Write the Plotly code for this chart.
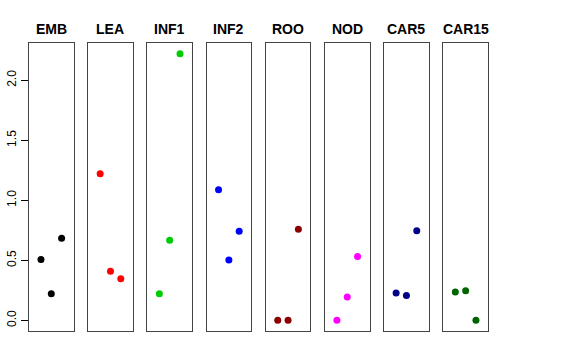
import plotly.graph_objects as go

tissues = ["EMB", "LEA", "INF1", "INF2", "ROO", "NOD", "CAR5", "CAR15"]
positions = [1, 2, 3]
emb = [0.506, 0.222, 0.683]
lea = [1.222, 0.408, 0.347]
inf1 = [0.222, 0.667, 2.222]
inf2 = [1.089, 0.503, 0.742]
roo = [0.0, 0.0, 0.758]
nod = [0.0, 0.194, 0.531]
car5 = [0.228, 0.206, 0.747]
car15 = [0.236, 0.247, 0.0]
values = [emb, lea, inf1, inf2, roo, nod, car5, car15]
colors = ["#000000", "#FF0000", "#00CD00", "#0000FF", "#8B0000", "#FF00FF", "#00008B", "#006400"]
y_ticks = [0.0, 0.5, 1.0, 1.5, 2.0]

W, H = 576, 360
fig = go.Figure()
left0, step, pw = 29.0, 59.19, 44.6
ytop, ybot = 43.0, 331.0
ymax_data = max(max(v) for v in values)
pad = 0.04 * (ymax_data - 0)
yr = [0 - pad, ymax_data + pad]

for i, (name, vals, col) in enumerate(zip(tissues, values, colors)):
    ax = "" if i == 0 else str(i + 1)
    fig.add_trace(go.Scatter(x=positions, y=vals, mode="markers",
                             marker=dict(color=col, size=7),
                             xaxis="x" + ax, yaxis="y" + ax, showlegend=False))
    l = left0 + step * i
    dom = [l / W, (l + pw) / W]
    fig.layout["xaxis" + ax] = dict(domain=dom, range=[-0.16, 4.16], showticklabels=False,
                                    ticks="", showgrid=False, zeroline=False, automargin=False,
                                    showline=True, mirror=True, linecolor="#444444", linewidth=1,
                                    anchor="y" + ax)
    ydict = dict(domain=[(H - ybot) / H, (H - ytop) / H], range=yr, showgrid=False,
                 zeroline=False, showline=True, mirror=True, linecolor="#444444", linewidth=1,
                 anchor="x" + ax, automargin=False)
    if i == 0:
        ydict.update(tickvals=y_ticks, ticktext=[f"{t:.1f}" for t in y_ticks], ticks="outside",
                     ticklen=7, tickcolor="#000", tickangle=-90,
                     tickfont=dict(family="Liberation Sans, Arial", size=12, color="#000"))
    else:
        ydict.update(showticklabels=False, ticks="")
    fig.layout["yaxis" + ax] = ydict
    fig.add_annotation(x=(l + pw / 2) / W, y=(H - 29) / H, xref="paper", yref="paper",
                       text=f"<b>{name}</b>", showarrow=False, xanchor="center", yanchor="middle",
                       font=dict(family="Liberation Sans, Arial", size=14, color="#000"))

fig.update_layout(width=W, height=H, margin=dict(l=0, r=0, t=0, b=0, autoexpand=False),
                  paper_bgcolor="white", plot_bgcolor="white")
fig.write_html("out.html", post_script="document.body.style.margin='0';",
               config={"displayModeBar": False})
